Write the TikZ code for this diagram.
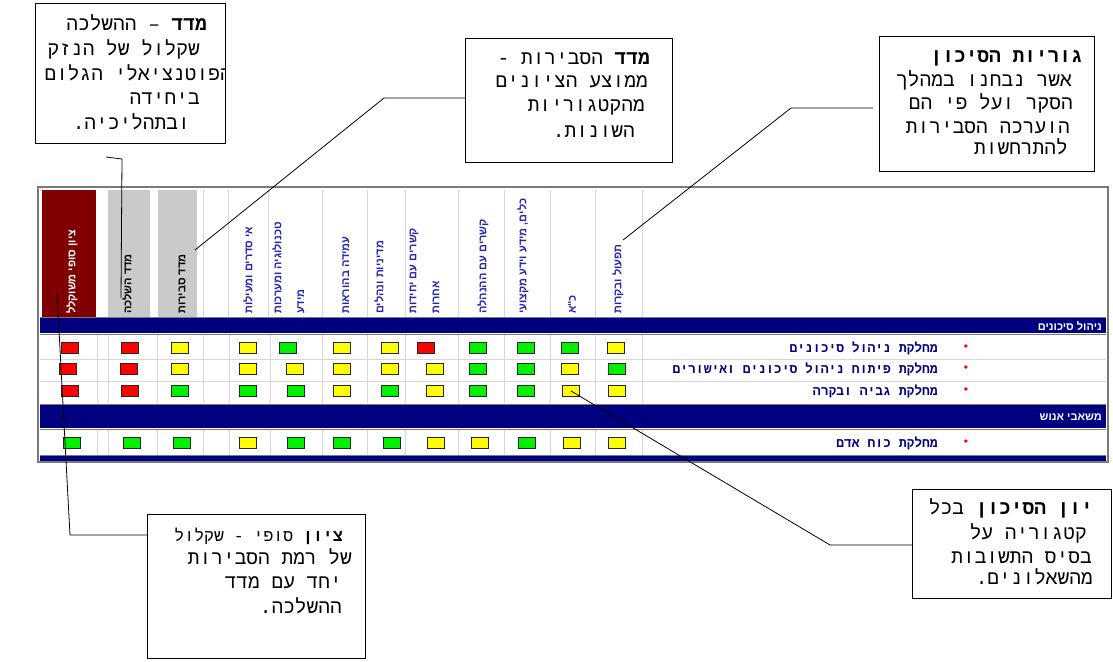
\documentclass[tikz,border=0pt]{standalone}
\usepackage{fontspec}
\setmainfont{Liberation Sans}
\newfontfamily\heb[Script=Hebrew]{Liberation Sans}
\newfontfamily\hebm[Script=Hebrew]{Liberation Mono}
\TeXXeTstate=1
\newcommand{\hb}[1]{{\heb\beginR #1\endR}}
\newcommand{\hm}[1]{{\hebm\beginR #1\endR}}
\definecolor{navyb}{HTML}{000080}
\definecolor{maroonc}{HTML}{800000}
\definecolor{grayc}{HTML}{CACACA}
\definecolor{hdrblue}{HTML}{2626B0}
\definecolor{gridc}{HTML}{D6D6D6}
\definecolor{framec}{HTML}{7A7A7A}
\definecolor{rd}{HTML}{FF0000}
\definecolor{yl}{HTML}{FFFF00}
\definecolor{gr}{HTML}{00F000}
\tikzset{
  callout/.style={draw=black, line width=1pt, fill=white},
  ctext/.style={anchor=base east, inner sep=0pt, font=\fontsize{19.5}{22}\selectfont},
  ctextn/.style={ctext, font=\fontsize{16.5}{20}\selectfont},
  hdr/.style={rotate=90, anchor=west, inner sep=0pt, text=hdrblue, font=\fontsize{11}{13}\selectfont\bfseries},
  hdrk/.style={hdr, text=black},
  lamp/.style={draw=black!85, line width=0.9pt, minimum width=17pt, minimum height=11pt, inner sep=0pt},
  rowlbl/.style={anchor=east, inner sep=0pt, text=navyb, font=\fontsize{13}{15}\selectfont\bfseries},
  seclbl/.style={anchor=east, inner sep=0pt, text=white, font=\fontsize{11}{13}\selectfont\bfseries},
  bullet/.style={inner sep=0pt, text=red, font=\fontsize{12}{14}\selectfont},
  conn/.style={draw=black, line width=0.8pt},
  grid/.style={draw=gridc, line width=0.8pt}
}
\begin{document}
\begin{tikzpicture}[x=1pt,y=-1pt]
\useasboundingbox (0,0) rectangle (1113,661);
\fill[white] (0,0) rectangle (1113,661);

% ---------- table ----------
\fill[white] (38,187) rectangle (1108,462);
\fill[maroonc] (42,190) rectangle (96,317);
\fill[grayc] (108,190) rectangle (150,317);
\fill[grayc] (158,190) rectangle (197,317);
\foreach \x in {203,228,268,322,367,405,458,504,550,595,642}
  \draw[grid] (\x,190) -- (\x,317);
% section bars
\fill[navyb] (40,318) rectangle (1106,333);
\draw[framec, line width=1pt] (40,317.5) -- (1106,317.5) (40,334) -- (1106,334);
\fill[navyb] (40,405) rectangle (1106,428);
\draw[framec, line width=1pt] (40,404) -- (1106,404) (40,429) -- (1106,429);
\fill[navyb] (40,456) rectangle (1106,461);
\draw[framec, line width=1pt] (40,455.5) -- (1106,455.5);
% row grid
\foreach \x in {97,108,157,203,229,270,322,367,405,458,504,550,595,642} {
  \draw[grid] (\x,335) -- (\x,403);
  \draw[grid] (\x,430) -- (\x,455);
}
\draw[grid] (40,359) -- (1106,359) (40,381) -- (1106,381);
\draw[framec, line width=2pt] (38,187) rectangle (1108,462);

% header labels
\node[hdr, text=white] (h1) at (72,314) {\hb{ציון סופי משוקלל}};
\node[hdrk] (h2) at (127,314) {\hb{מדד השלכה}};
\node[hdrk] (h3) at (182,314) {\hb{מדד סבירות}};
\node[hdr] (h4) at (248,314) {\hb{אי סדרים ומעילות}};
\node[hdr] (h5a) at (277,314) {\hb{טכנולוגיה ומערכות}};
\node[hdr] (h5b) at (301,314) {\hb{מידע}};
\node[hdr] (h6) at (346,314) {\hb{עמידה בהוראות}};
\node[hdr] (h7) at (379,314) {\hb{מדיניות ונהלים}};
\node[hdr] (h8a) at (414,314) {\hb{קשרים עם יחידות}};
\node[hdr] (h8b) at (436,314) {\hb{אחרות}};
\node[hdr] (h9) at (483,314) {\hb{קשרים עם ההנהלה}};
\node[hdr] (h10) at (523,314) {\hb{כלים, מידע וידע מקצועי}};
\node[hdr] (h11) at (572,314) {\hb{כ"א}};
\node[hdr] (h12) at (618,314) {\hb{תפעול ובקרות}};

% section and row labels
\node[seclbl] (sec1) at (1102,326) {\hb{ניהול סיכונים}};
\node[seclbl] (sec2) at (1102,417) {\hb{משאבי אנוש}};
\node[rowlbl] (r1) at (938,348) {\hm{מחלקת ניהול סיכונים}};
\node[rowlbl] (r2) at (938,369) {\hm{מחלקת פיתוח ניהול סיכונים ואישורים}};
\node[rowlbl] (r3) at (938,391) {\hm{מחלקת גביה ובקרה}};
\node[rowlbl] (r4) at (938,443) {\hm{מחלקת כוח אדם}};
\node[bullet] (b1) at (966,348) {•};
\node[bullet] (b2) at (966,369) {•};
\node[bullet] (b3) at (966,391) {•};
\node[bullet] (b4) at (966,443) {•};

% lamps
\foreach \x/\c [count=\i] in {70/rd,130/rd,180/yl,248/yl,288/gr,342/yl,390/yl,426/rd,478/gr,526/gr,570/gr,616/yl}
  \node[lamp, fill=\c] (s1-\i) at (\x,348) {};
\foreach \x/\c [count=\i] in {68/rd,129/rd,180/yl,248/yl,295/yl,342/yl,390/yl,435/yl,478/gr,526/gr,570/yl,617/gr}
  \node[lamp, fill=\c] (s2-\i) at (\x,369) {};
\foreach \x/\c [count=\i] in {70/rd,130/rd,180/gr,248/gr,296/gr,342/yl,390/gr,435/yl,478/gr,526/gr,571/yl,617/yl}
  \node[lamp, fill=\c] (s3-\i) at (\x,391) {};
\foreach \x/\c [count=\i] in {72/gr,132/gr,182/gr,248/yl,296/gr,342/gr,392/gr,436/yl,480/yl,527/gr,572/yl,617/yl}
  \node[lamp, fill=\c] (s4-\i) at (\x,443) {};

% ---------- callout boxes ----------
\draw[callout] (35,4) rectangle (225,143);
\begin{scope}
\clip (35.5,4.5) rectangle (224.5,142.5);
\node[ctext] (t1a) at (207,31) {\hm{\textbf{מדד} – ההשלכה}};
\node[ctext] (t1b) at (200,56) {\hm{שקלול של הנזק}};
\node[ctext] (t1c) at (232,81) {\hm{הפוטנציאלי הגלום}};
\node[ctext] (t1d) at (200,104) {\hm{ביחידה}};
\node[ctext] (t1e) at (190,129) {\hm{ובתהליכיה.}};
\end{scope}

\draw[callout] (465,39) rectangle (672,162);
\node[ctext] (t2a) at (650,64) {\hm{\textbf{מדד} הסבירות -}};
\node[ctext] (t2b) at (648,88) {\hm{ממוצע הציונים}};
\node[ctext] (t2c) at (645,111) {\hm{מהקטגוריות}};
\node[ctext] (t2d) at (635,137) {\hm{השונות.}};

\draw[callout] (879,37) rectangle (1094,171);
\node[ctext] (t3a) at (1083,63) {\hm{\textbf{גוריות הסיכון}}};
\node[ctext] (t3b) at (1072,86) {\hm{אשר נבחנו במהלך}};
\node[ctext] (t3c) at (1073,109) {\hm{הסקר ועל פי הם}};
\node[ctext] (t3d) at (1070,133) {\hm{הוערכה הסבירות}};
\node[ctext] (t3e) at (1068,154) {\hm{להתרחשות}};

\draw[callout] (147,514) rectangle (365,658);
\node[ctextn] (t4a) at (343,541) {\hm{\textbf{ציון} סופי - שקלול}};
\node[ctext] (t4b) at (352,564) {\hm{של רמת הסבירות}};
\node[ctext] (t4c) at (342,588) {\hm{יחד עם מדד}};
\node[ctext] (t4d) at (342,613) {\hm{ההשלכה.}};

\draw[callout] (912,489) rectangle (1111,598);
\node[ctext] (t5a) at (1093,514) {\hm{\textbf{יון הסיכון} בכל}};
\node[ctext] (t5b) at (1087,539) {\hm{קטגוריה על}};
\node[ctext] (t5c) at (1092,563) {\hm{בסיס התשובות}};
\node[ctext] (t5d) at (1093,584) {\hm{מהשאלונים.}};

% ---------- connectors ----------
\coordinate (c1s) at (106,157);
\coordinate (c1e) at (121,298);
\draw[conn] (c1s) -- (122,159) -- (c1e);
\coordinate (c2s) at (465,98);
\coordinate (c2e) at (195,250);
\draw[conn] (c2s) -- (384,98) -- (c2e);
\coordinate (c3s) at (873,108);
\coordinate (c3e) at (623,240);
\draw[conn] (c3s) -- (791,108) -- (c3e);
\coordinate (c4s) at (147,535);
\coordinate (c4e) at (57,293);
\draw[conn] (c4s) -- (70,535) -- (c4e);
\coordinate (c5s) at (912,545);
\draw[conn] (c5s) -- (830,545) -- (s3-11.center);
\end{tikzpicture}
\end{document}
